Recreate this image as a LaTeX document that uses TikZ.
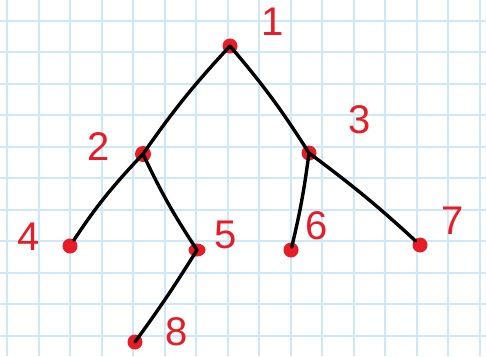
\documentclass[tikz,border=0pt]{standalone}
\usepackage{fontspec}
\setmainfont{Liberation Sans}
\usetikzlibrary{shapes.geometric}
\definecolor{gridblue}{RGB}{205,232,250}
\definecolor{inkred}{RGB}{232,28,38}
\tikzset{
  vert/.style={circle,fill=inkred,inner sep=0pt,minimum size=15pt},
  lbl/.style={text=inkred,inner sep=0pt,font=\fontsize{40}{40}\selectfont},
  edge/.style={draw=black,line width=3.4pt,line cap=round},
  gridline/.style={draw=gridblue,line width=2pt}
}
\begin{document}
\begin{tikzpicture}[x=1pt,y=-1pt]
\fill[white] (0,0) rectangle (486,356);
\useasboundingbox (0,0) rectangle (486,356);
\foreach \i in {0,...,15} \draw[gridline] (7.3+31.5*\i,0) -- (7.3+31.5*\i,356);
\foreach \j in {0,...,10} \draw[gridline] (0,20.7+31.5*\j) -- (486,20.7+31.5*\j);
% vertices
\node[vert] (v1) at (230,46) {};
\node[vert,minimum size=16pt] (v2) at (143,154) {};
\node[vert] (v3) at (309,153) {};
\node[vert] (v4) at (70,246) {};
\node[vert,ellipse,minimum width=17pt,minimum height=13pt] (v5) at (197,250) {};
\node[vert] (v6) at (291,250) {};
\node[vert] (v7) at (420,245) {};
\node[vert] (v8) at (135,342) {};
% edges
\draw[edge] (v1.center) to[bend right=4] (v2.center);
\draw[edge] (v1.center) to[bend left=4] (v3.center);
\draw[edge,shorten >=7pt] (v2.center) to[bend right=5] (v4.center);
\draw[edge] (v2.center) to[bend right=4] (v5.center);
\draw[edge] (v5.center) to[bend left=2] (v8.center);
\draw[edge,shorten >=3pt] (v3.center) to[bend left=3] (v6.center);
\draw[edge,shorten >=6pt] (v3.center) to[bend left=3] (v7.center);
% labels
\node[lbl] (l1) at (273,22) {1};
\node[lbl] (l2) at (99,147) {2};
\node[lbl] (l3) at (360,120) {3};
\node[lbl] (l4) at (29,237) {4};
\node[lbl] (l5) at (226,235) {5};
\node[lbl] (l6) at (317,226) {6};
\node[lbl] (l7) at (453,221) {7};
\node[lbl] (l8) at (177,332) {8};
\end{tikzpicture}
\end{document}
